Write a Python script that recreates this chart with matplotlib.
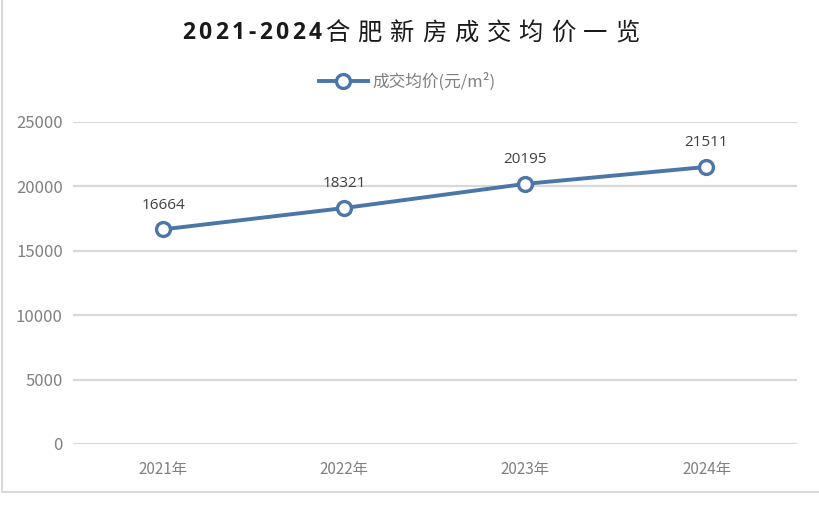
import matplotlib
matplotlib.use("Agg")
import matplotlib.pyplot as plt
from matplotlib.lines import Line2D

plt.rcParams['font.family'] = ['Noto Sans CJK SC', 'DejaVu Sans']

categories = ["2021年", "2022年", "2023年", "2024年"]
values = [16664, 18321, 20195, 21511]
yticks = [0, 5000, 10000, 15000, 20000, 25000]
series_name = "成交均价(元/m²)"
title = "2021-2024合肥新房成交均价一览"

line_color = "#4a76a8"
grid_color = "#d9d9d9"
tick_color = "#808080"

W, H = 820, 507
fig = plt.figure(figsize=(W / 100, H / 100), dpi=100)
ax = fig.add_axes([0.0885, 0.1243, 0.8835, 0.6351])

x = list(range(len(categories)))
ax.plot(x, values, color=line_color, lw=2.8, marker='o', ms=10,
        mfc='white', mec=line_color, mew=2.4, zorder=3, solid_capstyle='round')
for xi, v in zip(x, values):
    ax.annotate(f"{v}", (xi, v), xytext=(0, 12), textcoords='offset points',
                ha='center', va='bottom', fontsize=11, color='#404040',
                family=['Open Sans', 'DejaVu Sans'])

ax.set_xlim(-0.5, len(categories) - 0.5)
ax.set_ylim(0, 25000)
ax.set_yticks(yticks)
ax.set_yticklabels([str(t) for t in yticks])
ax.set_xticks(x)
ax.set_xticklabels(categories)
ax.grid(axis='y', color=grid_color, lw=1.6)
ax.set_axisbelow(True)
for s in ax.spines.values():
    s.set_visible(False)
ax.tick_params(axis='both', length=0, colors=tick_color, labelsize=12)
ax.tick_params(axis='x', pad=12, labelsize=11)
ax.tick_params(axis='y', pad=7)

# Title with letter spacing (character by character)
renderer = fig.canvas.get_renderer()
title_left_px = 182
title_y = 1 - 33 / H
cur = title_left_px
for ch in title:
    is_ascii = ord(ch) < 128
    t = fig.text(cur / W, title_y, ch, ha='left', va='center',
                 fontsize=16.5 if is_ascii else 17.5,
                 fontweight='bold' if is_ascii else 'medium',
                 color='#1a1a1a',
                 family=['Open Sans', 'Noto Sans CJK SC'] if is_ascii else ['Noto Sans CJK SC'])
    w = t.get_window_extent(renderer).width
    cur += w + (3.5 if is_ascii else 8.0)

handle = Line2D([], [], color=line_color, lw=2.8, marker='o', ms=10,
                mfc='white', mec=line_color, mew=2.4)
fig.legend([handle], [series_name], loc='center', bbox_to_anchor=(0.497, 0.838),
           frameon=False, fontsize=12, labelcolor='#7f7f7f', handlelength=2.9,
           handletextpad=0.3)

# light frame on left and bottom
fig.add_artist(Line2D([0.003, 0.003], [0.029, 1.0], transform=fig.transFigure,
                      color='#d9d9d9', lw=1.5))
fig.add_artist(Line2D([0.003, 1.0], [0.029, 0.029], transform=fig.transFigure,
                      color='#d9d9d9', lw=1.5))

fig.savefig("out.png", dpi=100, facecolor='white')
